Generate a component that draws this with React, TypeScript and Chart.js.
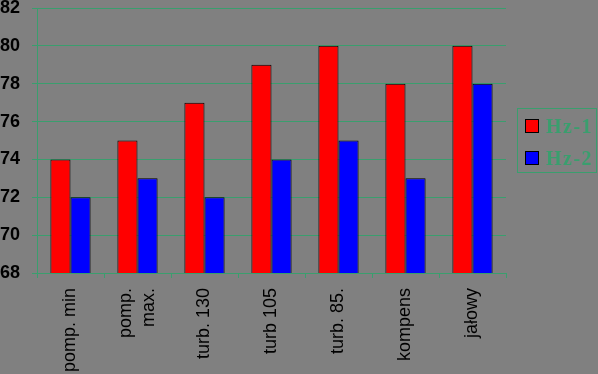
import React, { useEffect, useRef } from "react";
import { Chart, registerables } from "chart.js";

Chart.register(...registerables);

const categories: (string | string[])[] = ["pomp. min", ["pomp.", "max."], "turb. 130", "turb 105", "turb. 85.", "kompens", "jałowy"];
const hz1 = [74, 75, 77, 79, 80, 78, 80];
const hz2 = [72, 73, 72, 74, 75, 73, 78];
const seriesNames = ["Hz-1", "Hz-2"];
const seriesColors = ["#ff0000", "#0000ff"];

const GREEN = "#3a9e6e";
const BG = "#808080";

const centerMultiline = {
  id: "centerMultiline",
  beforeDraw(chart: any) {
    const scale = chart.scales.x;
    const items = scale.getLabelItems(chart.chartArea);
    items.forEach((it: any) => {
      if (Array.isArray(it.label) && !it._shifted) {
        const lh = it.font.lineHeight;
        const shift = ((it.label.length - 1) * lh) / 2;
        it.options.translation = [it.options.translation[0] - shift, it.options.translation[1]];
        it._shifted = true;
      }
    });
  },
};

const legendPlugin = {
  id: "boxLegend",
  afterDraw(chart: any) {
    const ctx = chart.ctx;
    ctx.save();
    ctx.strokeStyle = GREEN;
    ctx.lineWidth = 1;
    ctx.strokeRect(517.5, 108.5, 79, 64);
    seriesNames.forEach((name, i) => {
      const y = 119 + i * 32;
      ctx.fillStyle = seriesColors[i];
      ctx.fillRect(525, y, 14, 14);
      ctx.strokeStyle = "#000";
      ctx.strokeRect(525.5, y + 0.5, 13, 13);
      ctx.fillStyle = GREEN;
      ctx.font = "bold 20px 'Liberation Serif', 'Times New Roman', serif";
      ctx.textBaseline = "alphabetic";
      ctx.textAlign = "left";
      (ctx as any).letterSpacing = "1.5px";
      ctx.fillText(name, 546, y + 14);
    });
    ctx.restore();
  },
};

export default function App() {
  const ref = useRef<HTMLCanvasElement>(null);
  useEffect(() => {
    if (!ref.current) return;
    const chart = new Chart(ref.current, {
      type: "bar",
      data: {
        labels: categories,
        datasets: [
          { label: seriesNames[0], data: hz1, backgroundColor: seriesColors[0], borderColor: "#000", borderWidth: 1 },
          { label: seriesNames[1], data: hz2, backgroundColor: seriesColors[1], borderColor: "#000", borderWidth: 1 },
        ],
      },
      options: {
        responsive: false,
        animation: false,
        layout: { padding: { top: 8, right: 92, left: 0, bottom: 0 } },
        datasets: { bar: { categoryPercentage: 0.6, barPercentage: 1.0 } },
        plugins: { legend: { display: false }, tooltip: { enabled: false } },
        scales: {
          x: {
            grid: { offset: true, drawOnChartArea: false, drawTicks: true, tickLength: 5, color: GREEN },
            border: { color: GREEN },
            ticks: {
              color: "#000",
              font: { family: "Arial, 'Liberation Sans', sans-serif", size: 18, lineHeight: 1.3 },
              minRotation: 90,
              maxRotation: 90,
              padding: 10,
              autoSkip: false,
            },
            afterFit(scale: any) {
              scale.height = 101;
              scale.paddingLeft = 0;
              scale.paddingRight = 0;
            },
          },
          y: {
            min: 68,
            max: 82,
            grid: { color: GREEN, tickLength: 5, drawTicks: true },
            border: { color: GREEN },
            ticks: {
              stepSize: 2,
              color: "#000",
              font: { family: "Arial, 'Liberation Sans', sans-serif", size: 18, weight: "bold", lineHeight: 1 },
              padding: 12,
            },
            afterFit(scale: any) {
              scale.width = 37;
              scale.paddingTop = 0;
              scale.paddingBottom = 0;
            },
          },
        },
      },
      plugins: [centerMultiline, legendPlugin],
    });
    return () => chart.destroy();
  }, []);
  return (
    <div style={{ position: "fixed", left: 0, top: 0, width: 598, height: 374, background: BG }}>
      <canvas ref={ref} width={598} height={374} style={{ display: "block" }} />
    </div>
  );
}
